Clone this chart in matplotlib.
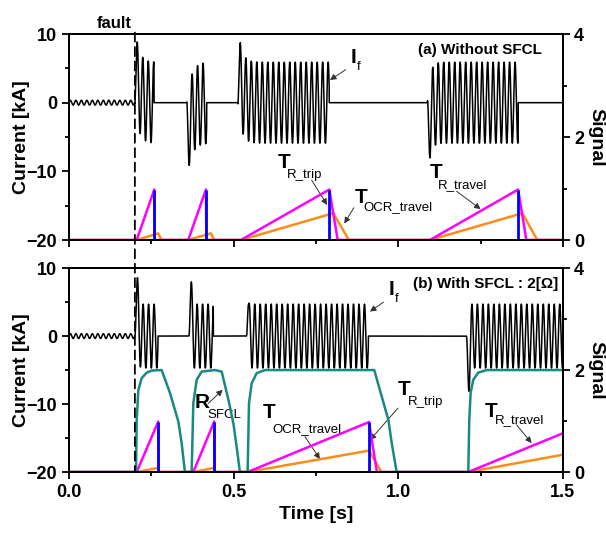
import numpy as np
import matplotlib
matplotlib.use("Agg")
import matplotlib.pyplot as plt
from matplotlib.patches import ConnectionPatch
from matplotlib.ticker import MultipleLocator

plt.rcParams["font.family"] = ["Liberation Sans", "DejaVu Sans"]
plt.rcParams["font.weight"] = "bold"

# ---- data ----
FREQ = 60.0          # Hz
T_FAULT = 0.2        # s
PREFAULT_AMP = 0.35  # kA

# fault-current bursts: start [s], end [s], steady amplitude [kA], first extremum [kA]
a_start = [0.199, 0.357, 0.512, 1.088]
a_end = [0.258, 0.418, 0.790, 1.364]
a_amp = [5.9, 5.9, 5.9, 5.9]
a_first = [8.8, -9.1, 8.7, -8.0]

b_start = [0.200, 0.364, 0.539, 1.207]
b_end = [0.270, 0.438, 0.909, 1.500]
b_amp = [4.7, 4.7, 4.7, 4.7]
b_first = [8.5, 7.7, 4.8, -7.9]

# signals (right axis) as breakpoints
rtravel_a_t = [0, 0.2055, 0.259, 0.260, 0.362, 0.4158, 0.417, 0.522, 0.7905, 0.816, 1.096, 1.364, 1.389, 1.5]
rtravel_a_v = [0, 0, 0.98, 0, 0, 0.98, 0, 0, 0.98, 0, 0, 0.98, 0, 0]
ocr_a_t = [0, 0.2055, 0.271, 0.281, 0.362, 0.431, 0.441, 0.522, 0.8026, 0.850, 1.096, 1.377, 1.422, 1.5]
ocr_a_v = [0, 0, 0.13, 0, 0, 0.13, 0, 0, 0.52, 0, 0, 0.52, 0, 0]
trip_a = [0.259, 0.4158, 0.7905, 1.364]

rtravel_b_t = [0, 0.2055, 0.271, 0.272, 0.3775, 0.441, 0.442, 0.5425, 0.911, 0.935, 1.2126, 1.5]
rtravel_b_v = [0, 0, 0.99, 0, 0, 0.99, 0, 0, 0.98, 0, 0, 0.76]
ocr_b_t = [0, 0.2055, 0.270, 0.272, 0.3775, 0.440, 0.442, 0.5425, 0.911, 0.949, 1.2126, 1.5]
ocr_b_v = [0, 0, 0.08, 0, 0, 0.08, 0, 0, 0.42, 0, 0, 0.34]
trip_b = [0.271, 0.441, 0.911]

rsfcl_t = [0, 0.2035, 0.2055, 0.2105, 0.2206, 0.236, 0.251, 0.2814, 0.3067, 0.332, 0.342, 0.352,
           0.3725, 0.3775, 0.3877, 0.403, 0.443, 0.4636, 0.484, 0.499, 0.509, 0.519,
           0.5425, 0.5466, 0.5547, 0.570, 0.595, 0.927, 0.970, 0.980, 0.995,
           1.2126, 1.2156, 1.2197, 1.2277, 1.243, 1.268, 1.5]
rsfcl_v = [0, 0, 1.02, 1.61, 1.84, 1.95, 1.99, 2.0, 1.55, 0.99, 0.57, 0,
           0, 1.35, 1.81, 1.97, 2.0, 1.97, 1.42, 0.96, 0.5, 0,
           0, 1.35, 1.74, 1.94, 2.0, 2.0, 1.02, 0.57, 0,
           0, 1.02, 1.55, 1.81, 1.95, 2.0, 2.0]

MAGENTA, ORANGE, BLUE, TEAL = "#FF00FF", "#FF8C1A", "#0000FF", "#188A80"


def current_trace(t, starts, ends, amps, firsts, k):
    i = np.where(t < T_FAULT, PREFAULT_AMP * np.sin(2 * np.pi * FREQ * t), 0.0)
    w = 2 * np.pi * FREQ
    half = 0.5 / FREQ
    for t0, t1, a, p in zip(starts, ends, amps, firsts):
        s = t - t0
        m = (s >= 0) & (t <= t1)
        r = max(abs(p) / a - 1.0, 1e-3)
        s0 = half / (-np.log(r)) ** (1.0 / k)
        i[m] = np.sign(p) * (-a * np.cos(w * s[m]) + a * np.exp(-(s[m] / s0) ** k))
    return i


t = np.linspace(0, 1.5, 15001)
i_a = current_trace(t, a_start, a_end, a_amp, a_first, 1)
i_b = current_trace(t, b_start, b_end, b_amp, b_first, 4)

fig = plt.figure(figsize=(6.06, 5.33), dpi=100)
ax1 = fig.add_axes([0.1139, 0.5497, 0.815, 0.3865])
ax2 = fig.add_axes([0.1139, 0.1144, 0.815, 0.3826])

for ax, cur in ((ax1, i_a), (ax2, i_b)):
    ax.plot(t, cur, color="black", lw=1.1)
    ax.set_xlim(0, 1.5)
    ax.set_ylim(-20, 10)
    ax.xaxis.set_major_locator(MultipleLocator(0.5))
    ax.xaxis.set_minor_locator(MultipleLocator(0.25))
    ax.yaxis.set_major_locator(MultipleLocator(10))
    ax.yaxis.set_minor_locator(MultipleLocator(5))
    ax.tick_params(which="both", direction="out", width=1.3, labelsize=13)
    ax.tick_params(which="major", length=5)
    ax.tick_params(which="minor", length=3)
    ax.set_ylabel("Current [kA]", fontsize=14, fontweight="bold")
    ax.yaxis.set_label_coords(-0.08, 0.5)
    for sp in ax.spines.values():
        sp.set_linewidth(1.4)

ax1.tick_params(axis="x", labelbottom=False)
ax2.set_xticks([0, 0.5, 1.0, 1.5])
ax2.set_xticklabels(["0.0", "0.5", "1.0", "1.5"])
ax2.set_xlabel("Time [s]", fontsize=14, fontweight="bold", labelpad=4)

r1 = ax1.twinx()
r2 = ax2.twinx()
for r in (r1, r2):
    r.set_ylim(0, 4)
    r.yaxis.set_major_locator(MultipleLocator(2))
    r.yaxis.set_minor_locator(MultipleLocator(1))
    r.tick_params(which="both", direction="out", width=1.3, labelsize=13, pad=3)
    r.tick_params(which="major", length=5)
    r.tick_params(which="minor", length=3)
    r.set_ylabel("Signal", fontsize=14, fontweight="bold", rotation=270,
                 va="center", ha="center")
    r.yaxis.set_label_coords(1.066, 0.5)
    for sp in r.spines.values():
        sp.set_linewidth(1.4)

# top panel signals
r1.plot(ocr_a_t, ocr_a_v, color=ORANGE, lw=1.8)
r1.plot(rtravel_a_t, rtravel_a_v, color=MAGENTA, lw=1.8)
r1.plot([0, 1.5], [0, 0], color=BLUE, lw=2)
r1.vlines(trip_a, 0, 0.98, color=BLUE, lw=2)

# bottom panel signals
r2.plot(ocr_b_t, ocr_b_v, color=ORANGE, lw=1.8)
r2.plot(rtravel_b_t, rtravel_b_v, color=MAGENTA, lw=1.8)
r2.plot([0, 1.5], [0, 0], color=BLUE, lw=2)
r2.vlines(trip_b, 0, 0.99, color=BLUE, lw=2)
r2.plot(rsfcl_t, rsfcl_v, color=TEAL, lw=1.8)

# fault line through both panels
con = ConnectionPatch(xyA=(T_FAULT, 10.2), coordsA=ax1.transData,
                      xyB=(T_FAULT, -20), coordsB=ax2.transData,
                      color="black", lw=1.3, linestyle=(0, (5, 3)))
fig.add_artist(con)
ax1.text(0.137, 10.9, "fault", fontsize=12, ha="center", va="baseline", clip_on=False)

arrow = dict(arrowstyle="-|>", color="0.2", lw=0.7, mutation_scale=9, shrinkA=0, shrinkB=0)


def label(ax, main, sub, x, y, xs, ys, tail, tip):
    ax.text(x, y, main, fontsize=15, va="baseline")
    ax.text(xs, ys, sub, fontsize=9.5, fontweight="normal", va="baseline")
    ax.annotate("", xy=tip, xytext=tail, arrowprops=arrow)


label(ax1, "I", "f", 0.854, 5.76, 0.874, 4.74, (0.84, 4.8), (0.7925, 3.3))
ax1.text(1.436, 7.66, "(a) Without SFCL", fontsize=11, ha="right", va="center")
label(ax1, "T", "R_trip", 0.635, -9.58, 0.662, -11.04, (0.737, -11.3), (0.784, -14.9))
label(ax1, "T", "OCR_travel", 0.868, -14.54, 0.893, -15.71, (0.865, -15.3), (0.836, -17.6))
label(ax1, "T", "R_travel", 1.096, -11.04, 1.1205, -12.5, (1.177, -12.9), (1.25, -15.5))

label(ax2, "I", "f", 0.970, 6.04, 0.990, 5.0, (0.955, 5.0), (0.914, 3.6))
ax2.text(1.485, 7.72, "(b) With SFCL : 2[\u03a9]", fontsize=11, ha="right", va="center")
label(ax2, "R", "SFCL", 0.3826, -10.56, 0.419, -12.0, (0.423, -9.9), (0.4667, -7.9))
label(ax2, "T", "OCR_travel", 0.589, -12.03, 0.619, -14.08, (0.7166, -14.8), (0.762, -18.1))
label(ax2, "T", "R_trip", 0.999, -8.65, 1.029, -10.1, (0.999, -10.6), (0.914, -15.3))
label(ax2, "T", "R_travel", 1.263, -11.88, 1.2935, -12.76, (1.359, -13.05), (1.405, -15.74))

fig.savefig("out.png", dpi=100)
